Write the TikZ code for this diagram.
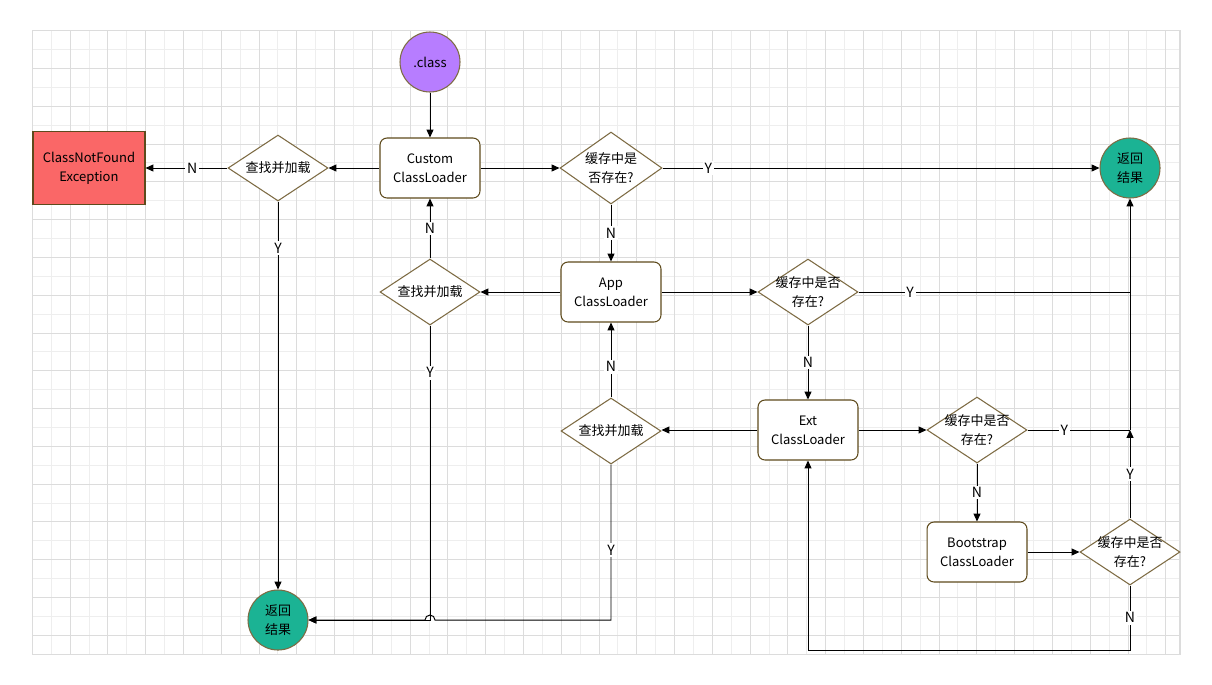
\documentclass[tikz,border=0pt]{standalone}
\usepackage{fontspec}
\setmainfont{Noto Sans CJK SC}
\usepackage{xcolor}
\usetikzlibrary{shapes,arrows,positioning,calc,arrows.meta}

\definecolor{clsviolet}{HTML}{B77DFF}
\definecolor{okgreen}{HTML}{1BB394}
\definecolor{errred}{HTML}{FA6767}
\definecolor{boxbrown}{HTML}{5E4A1C}
\definecolor{losbrown}{HTML}{7D6B43}
\definecolor{gridmin}{HTML}{EEEEEE}
\definecolor{gridmaj}{HTML}{DCDCDC}

\begin{document}
\begin{tikzpicture}[x=0.02cm, y=-0.02cm,
    every node/.style={font=\fontsize{7.4pt}{10.8pt}\selectfont},
    box/.style={draw=boxbrown, fill=white, rounded corners=0.14cm, minimum width=2cm, minimum height=1.2cm, align=center, line width=0.6pt},
    erreur/.style={draw=boxbrown, fill=errred, minimum width=2.24cm, minimum height=1.46cm, align=center, line width=0.6pt},
    rond/.style={circle, draw=losbrown, minimum size=1.2cm, inner sep=0pt, align=center, line width=0.6pt},
    losange/.style={diamond, draw=losbrown, fill=white, minimum width=2cm, minimum height=1.32cm, inner sep=0pt, line width=0.6pt},
    fleche/.style={-{Triangle[length=4.5pt,width=4pt]}, line width=0.55pt, black},
    trait/.style={line width=0.55pt, black},
    lbl/.style={fill=white, inner sep=1pt, font=\fontsize{8pt}{10pt}\selectfont},
]
    \useasboundingbox (0,0) rectangle (1212,684);
    \fill[white] (0,0) rectangle (1212,684);

    % Grille
    \foreach \i in {0,...,60}
        \draw[gridmin, line width=0.5pt] ({32.3+\i*18.89},30.7) -- ({32.3+\i*18.89},654.3);
    \foreach \k in {0,...,33}
        \draw[gridmin, line width=0.5pt] (32.3,{30.7+\k*18.89}) -- (1180,{30.7+\k*18.89});
    \foreach \i in {0,2,...,60}
        \draw[gridmaj, line width=0.5pt] ({32.3+\i*18.89},30.7) -- ({32.3+\i*18.89},654.3);
    \foreach \k in {0,2,...,32}
        \draw[gridmaj, line width=0.5pt] (32.3,{30.7+\k*18.89}) -- (1180,{30.7+\k*18.89});
    \draw[gridmaj, line width=0.6pt] (32.3,30.7) rectangle (1180,654.3);

    % Noeuds
    \node[rond, fill=clsviolet] (cls) at (430,62) {.class};
    \node[box] (custom) at (430,168) {Custom\\ClassLoader};
    \node[losange, label={[align=center]center:查找并加载}] (load1) at (278,168) {};
    \node[erreur] (cnf) at (89,168) {ClassNotFound\\Exception};
    \node[losange, minimum width=2.04cm, minimum height=1.44cm, label={[align=center]center:{缓存中是\\否存在?}}] (cache1) at (611,168) {};
    \node[rond, fill=okgreen] (retour1) at (1130,168) {返回\\结果};

    \node[box] (app) at (611,292) {App\\ClassLoader};
    \node[losange, label={[align=center]center:查找并加载}] (load2) at (430,292) {};
    \node[losange, label={[align=center]center:{缓存中是否\\存在?}}] (cache2) at (808,292) {};

    \node[box] (ext) at (808,430) {Ext\\ClassLoader};
    \node[losange, label={[align=center]center:查找并加载}] (load3) at (611,431) {};
    \node[losange, label={[align=center]center:{缓存中是否\\存在?}}] (cache3) at (977,430) {};

    \node[box] (boot) at (977,552) {Bootstrap\\ClassLoader};
    \node[losange, label={[align=center]center:{缓存中是否\\存在?}}] (cache4) at (1130,552) {};
    \node[rond, fill=okgreen] (retour2) at (278,620) {返回\\结果};

    \coordinate (j1) at (1130,430);
    \coordinate (j2) at (1130,292);
    \coordinate (jb) at (1130,650);
    \coordinate (saut) at (611,620);

    % Custom
    \draw[fleche] (cls) -- (custom);
    \draw[fleche] (custom) -- (load1);
    \draw[fleche] (load1) -- node[lbl, pos=0.43] {N} (cnf);
    \draw[fleche] (load1) -- node[lbl, pos=0.12] {Y} (retour2);
    \draw[fleche] (custom) -- (cache1);
    \draw[fleche] (cache1) -- node[lbl, pos=0.105] {Y} (retour1);
    \draw[fleche] (cache1) -- node[lbl] {N} (app);

    % App
    \draw[fleche] (app) -- (load2);
    \draw[fleche] (load2) -- node[lbl] {N} (custom);
    \draw[fleche] (load2.south) |- node[lbl, pos=0.08] {Y} (retour2.east);
    \draw[fleche] (app) -- (cache2);
    \draw[trait] (cache2.east) -- node[lbl, pos=0.19] {Y} (j2);
    \draw[fleche] (cache2) -- node[lbl] {N} (ext);

    % Ext
    \draw[fleche] (ext.west) -- (ext.west -| load3.east);
    \draw[fleche] (load3) -- node[lbl, pos=0.41] {N} (app);
    \draw[fleche] (load3.south) -- node[lbl, pos=0.55] {Y} (saut)
        -- ($(load2 |- saut)+(5,0)$) arc[start angle=0, end angle=180, radius=0.1cm]
        -- (retour2.east);
    \draw[fleche] (ext) -- (cache3);
    \draw[trait] (cache3.east) -- node[lbl, pos=0.36] {Y} (j1);
    \draw[fleche] (cache3) -- node[lbl] {N} (boot);

    % Bootstrap
    \draw[fleche] (boot) -- (cache4);
    \draw[fleche] (cache4.north) -- node[lbl] {Y} (j1);
    \draw[fleche] (j1) -- (retour1.south);
    \draw[fleche] (cache4.south) -- node[lbl] {N} (jb) -| (ext.south);
\end{tikzpicture}
\end{document}
